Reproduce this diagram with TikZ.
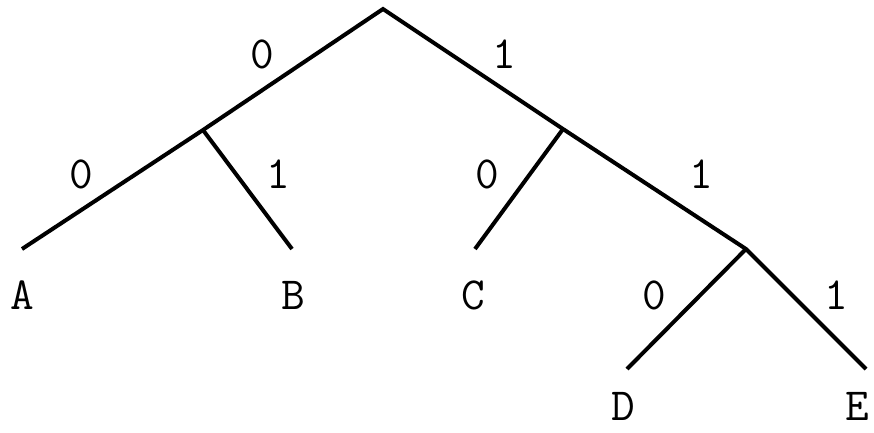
\documentclass[tikz,border=0pt]{standalone}
\begin{document}
\begin{tikzpicture}[x=1pt,y=-1pt,
  edge/.style={line width=4pt,line cap=butt,line join=miter},
  lbl/.style={font=\ttfamily\fontsize{46}{50}\selectfont,inner sep=0pt,anchor=center}]
\useasboundingbox (0,0) rectangle (874,432);
% points
\coordinate (r) at (383,9);
\coordinate (j1) at (203,130);
\coordinate (j2) at (563,129);
\coordinate (j3) at (746,249);
\coordinate (a) at (22,249);
\coordinate (b) at (292,249);
\coordinate (c) at (475,249);
\coordinate (d) at (627,369);
\coordinate (e) at (866,369);
% edges
\draw[edge] (a) -- (j1) -- (r) -- (j2) -- (j3) -- (e);
\draw[edge] (j1) -- (b);
\draw[edge] (j2) -- (c);
\draw[edge] (j3) -- (d);
% edge labels
\node[lbl] (l1) at (262,54) {0};
\node[lbl] (l2) at (504,54) {1};
\node[lbl] (l3) at (81,174) {0};
\node[lbl] (l4) at (278,174) {1};
\node[lbl] (l5) at (487,174) {0};
\node[lbl] (l6) at (701,174) {1};
\node[lbl] (l7) at (654,295) {0};
\node[lbl] (l8) at (836,295) {1};
% leaf labels
\node[lbl] (na) at (22,295) {A};
\node[lbl] (nb) at (293,295) {B};
\node[lbl] (nc) at (473,295) {C};
\node[lbl] (nd) at (623,406) {D};
\node[lbl] (ne) at (857,406) {E};
\end{tikzpicture}
\end{document}
